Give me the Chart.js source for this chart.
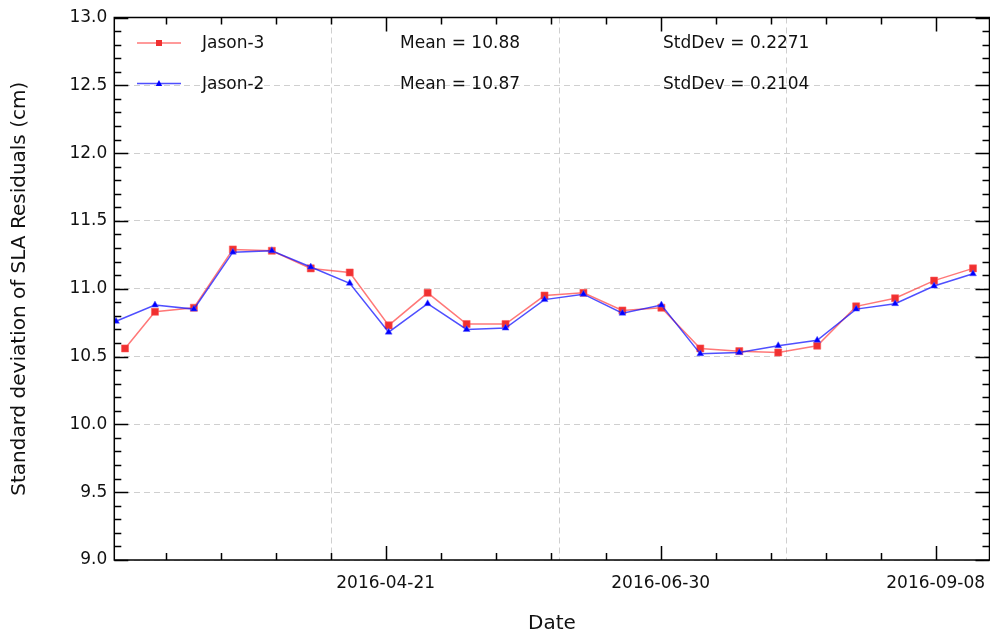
<!DOCTYPE html>
<html>
<head>
<meta charset="utf-8">
<script src="https://cdn.jsdelivr.net/npm/chart.js@4.4.1/dist/chart.umd.min.js"></script>
<style>
  html, body { margin: 0; padding: 0; background: #fff; }
  #wrap { width: 990px; height: 633px; }
</style>
</head>
<body>
<div id="wrap"><canvas id="chart"></canvas></div>
<script>
// cycle dates (Jason-2 and Jason-3 share cycles, Jason-3 starts a bit later)
const jason2Dates = [
  "2016-02-12T08:24", "2016-02-22T06:29", "2016-03-03T04:19", "2016-03-13T02:24",
  "2016-03-23T00:29", "2016-04-01T22:19", "2016-04-11T20:24", "2016-04-21T18:14",
  "2016-05-01T16:19", "2016-05-11T14:24", "2016-05-21T12:14", "2016-05-31T10:19",
  "2016-06-10T08:10", "2016-06-20T06:14", "2016-06-30T04:19", "2016-07-10T02:10",
  "2016-07-20T00:14", "2016-07-29T22:05", "2016-08-08T20:10", "2016-08-18T18:14",
  "2016-08-28T16:05", "2016-09-07T14:10", "2016-09-17T12:00"
];
const jason3Dates = [
  "2016-02-14T15:36", "2016-02-22T06:29", "2016-03-03T04:19", "2016-03-13T02:24",
  "2016-03-23T00:29", "2016-04-01T22:19", "2016-04-11T20:24", "2016-04-21T18:14",
  "2016-05-01T16:19", "2016-05-11T14:24", "2016-05-21T12:14", "2016-05-31T10:19",
  "2016-06-10T08:10", "2016-06-20T06:14", "2016-06-30T04:19", "2016-07-10T02:10",
  "2016-07-20T00:14", "2016-07-29T22:05", "2016-08-08T20:10", "2016-08-18T18:14",
  "2016-08-28T16:05", "2016-09-07T14:10", "2016-09-17T12:00"
];
const jason3Values = [10.56, 10.83, 10.86, 11.29, 11.28, 11.15, 11.12, 10.73, 10.97, 10.74, 10.74, 10.95,
  10.97, 10.84, 10.86, 10.56, 10.54, 10.53, 10.58, 10.87, 10.93, 11.06, 11.15];
const jason2Values = [10.76, 10.88, 10.85, 11.27, 11.28, 11.16, 11.04, 10.68, 10.89, 10.70, 10.71, 10.92,
  10.96, 10.82, 10.88, 10.52, 10.53, 10.58, 10.62, 10.85, 10.89, 11.02, 11.11];

const seriesNames = ["Jason-3", "Jason-2"];
const meanLabels = ["Mean = 10.88", "Mean = 10.87"];
const stdLabels = ["StdDev = 0.2271", "StdDev = 0.2104"];

const xMajorTicks = ["2016-04-21", "2016-06-30", "2016-09-08"];
const xGridDates = ["2016-04-07", "2016-06-04", "2016-08-01"];
const xRange = ["2016-02-11T22:05", "2016-09-21T16:48"];
const yRange = [9, 13];

const FONT = "'DejaVu Sans', 'Liberation Sans', sans-serif";
const DAY = 86400000;

function toDay(s) {
  return Date.parse(s.length > 10 ? s + ":00Z" : s + "T00:00:00Z") / DAY;
}
function fmtDay(d) {
  return new Date(Math.round(d) * DAY).toISOString().slice(0, 10);
}

const xMajor = xMajorTicks.map(toDay);

// dashed vertical grid, inward ticks on all four sides, legend + stats text
const framePlugin = {
  id: "frame",
  beforeDatasetsDraw(chart) {
    const { ctx, chartArea: a, scales } = chart;
    ctx.save();
    ctx.strokeStyle = "#cfcfcf";
    ctx.lineWidth = 1;
    ctx.setLineDash([6, 4]);
    xGridDates.forEach(function (d) {
      const px = Math.round(scales.x.getPixelForValue(toDay(d))) + 0.5;
      ctx.beginPath();
      ctx.moveTo(px, a.top);
      ctx.lineTo(px, a.bottom);
      ctx.stroke();
    });
    ctx.restore();
  },
  afterDraw(chart) {
    const { ctx, chartArea: a, scales } = chart;
    const sx = scales.x, sy = scales.y;
    ctx.save();
    ctx.strokeStyle = "#000";
    ctx.lineWidth = 1.5;

    // x ticks: minor every 14 days, major every 70
    const x0 = xMajor[0];
    for (let k = -10; k <= 20; k++) {
      const d = x0 + k * 14;
      if (d < sx.min || d > sx.max) continue;
      const px = Math.round(sx.getPixelForValue(d)) + 0.5;
      const len = k % 5 === 0 ? 14 : 7;
      ctx.beginPath();
      ctx.moveTo(px, a.bottom);
      ctx.lineTo(px, a.bottom - len);
      ctx.moveTo(px, a.top);
      ctx.lineTo(px, a.top + len);
      ctx.stroke();
    }
    // y ticks: minor 0.1, major 0.5
    for (let i = 0; i <= 40; i++) {
      const v = yRange[0] + i * 0.1;
      const py = Math.round(sy.getPixelForValue(v)) + 0.5;
      const len = i % 5 === 0 ? 14 : 7;
      ctx.beginPath();
      ctx.moveTo(a.left, py);
      ctx.lineTo(a.left + len, py);
      ctx.moveTo(a.right, py);
      ctx.lineTo(a.right - len, py);
      ctx.stroke();
    }
    ctx.strokeRect(a.left, a.top, a.right - a.left, a.bottom - a.top);

    // legend
    const rows = [44, 84.5];
    ctx.font = "17px " + FONT;
    ctx.textBaseline = "middle";
    chart.data.datasets.forEach(function (ds, i) {
      const y = rows[i];
      ctx.strokeStyle = ds.borderColor;
      ctx.lineWidth = ds.borderWidth;
      ctx.beginPath();
      ctx.moveTo(137, y - 1);
      ctx.lineTo(181, y - 1);
      ctx.stroke();
      ctx.fillStyle = ds.pointBackgroundColor;
      ctx.beginPath();
      if (ds.pointStyle === "rect") {
        ctx.rect(156, y - 4, 6, 6);
      } else {
        ctx.moveTo(159, y - 4.5);
        ctx.lineTo(162.2, y + 1.5);
        ctx.lineTo(155.8, y + 1.5);
        ctx.closePath();
      }
      ctx.fill();
      ctx.fillStyle = "#111";
      ctx.fillText(seriesNames[i], 202, y);
      ctx.fillText(meanLabels[i], 400, y);
      ctx.fillText(stdLabels[i], 663, y);
    });
    ctx.restore();
  }
};

const ctx = document.getElementById("chart").getContext("2d");
const chart = new Chart(ctx, {
  type: "line",
  data: {
    datasets: [
      {
        label: seriesNames[0],
        data: jason3Dates.map(function (d, i) { return { x: toDay(d), y: jason3Values[i] }; }),
        borderColor: "rgba(255, 30, 30, 0.6)",
        borderWidth: 1.5,
        pointStyle: "rect",
        pointRadius: 5,
        pointBackgroundColor: "#f03030",
        pointBorderColor: "rgba(255, 90, 90, 0.55)",
        pointBorderWidth: 1,
        tension: 0,
        order: 1
      },
      {
        label: seriesNames[1],
        data: jason2Dates.map(function (d, i) { return { x: toDay(d), y: jason2Values[i] }; }),
        borderColor: "rgba(20, 20, 255, 0.75)",
        borderWidth: 1.5,
        pointStyle: "triangle",
        pointRadius: 4,
        pointBackgroundColor: "#0000ff",
        pointBorderColor: "rgba(90, 90, 255, 0.5)",
        pointBorderWidth: 1,
        tension: 0,
        order: 0
      }
    ]
  },
  options: {
    responsive: true,
    maintainAspectRatio: false,
    animation: false,
    layout: { autoPadding: false, padding: { left: 0, right: 0.5, top: 17.5, bottom: 0 } },
    plugins: { legend: { display: false }, tooltip: { enabled: false } },
    scales: {
      x: {
        type: "linear",
        min: toDay(xRange[0]),
        max: toDay(xRange[1]),
        afterBuildTicks: function (scale) {
          scale.ticks = xMajor.map(function (v) { return { value: v }; });
        },
        afterFit: function (scale) {
          scale.height = 73;
          scale.paddingLeft = 0;
          scale.paddingRight = 0;
        },
        grid: { display: false },
        border: { display: false },
        ticks: {
          autoSkip: false,
          maxRotation: 0,
          padding: 5,
          color: "#111",
          font: { family: FONT, size: 17 },
          callback: function (v) { return fmtDay(v); }
        },
        title: {
          display: true,
          text: "Date",
          color: "#111",
          font: { family: FONT, size: 20, lineHeight: 0.9 },
          padding: { top: 0, bottom: 0 }
        }
      },
      y: {
        min: yRange[0],
        max: yRange[1],
        afterFit: function (scale) {
          scale.width = 114.3;
          scale.paddingTop = 0;
          scale.paddingBottom = 0;
        },
        grid: { color: "#cfcfcf", lineWidth: 1, drawTicks: false },
        border: { display: false, dash: [6, 4] },
        ticks: {
          stepSize: 0.5,
          padding: 7,
          color: "#111",
          font: { family: FONT, size: 17 },
          callback: function (v) { return v.toFixed(1); }
        },
        title: {
          display: true,
          text: "Standard deviation of SLA Residuals (cm)",
          color: "#111",
          font: { family: FONT, size: 20, lineHeight: 1 },
          padding: { top: 10, bottom: 0 }
        }
      }
    }
  },
  plugins: [framePlugin]
});
</script>
</body>
</html>
